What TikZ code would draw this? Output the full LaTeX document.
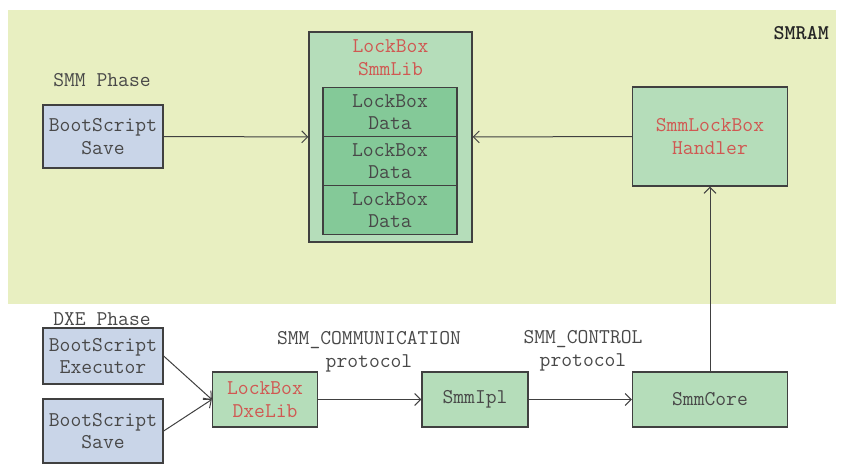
\documentclass[tikz,border=0pt]{standalone}
\usepackage{fontspec}
\usetikzlibrary{arrows.meta}
\definecolor{bgyellow}{RGB}{232,239,193}
\definecolor{boxblue}{RGB}{201,213,232}
\definecolor{boxgreen}{RGB}{181,221,186}
\definecolor{datagreen}{RGB}{132,201,152}
\definecolor{linegray}{RGB}{64,64,64}
\definecolor{txtgray}{RGB}{72,72,72}
\definecolor{txtred}{RGB}{208,88,82}
\tikzset{
  txtfont/.style={font=\ttfamily\fontsize{21}{22.5}\selectfont},
  box/.style={draw=linegray, line width=1.3pt, inner sep=0pt, align=center, text=txtgray, txtfont},
  bluebox/.style={box, fill=boxblue},
  greenbox/.style={box, fill=boxgreen},
  databox/.style={box, fill=datagreen},
  lbl/.style={inner sep=0pt, align=center, text=txtgray, txtfont},
  redtxt/.style={text=txtred},
  conn/.style={draw=linegray, line width=1pt, -{Straight Barb[length=6pt,width=12pt]}},
}
\begin{document}
\begin{tikzpicture}[x=1pt,y=-1pt]
\useasboundingbox (0,0) rectangle (847,472);
\fill[bgyellow] (8,10) rectangle (836,304);
\node[lbl, anchor=base east, font=\ttfamily\fontsize{21}{22.5}\selectfont\bfseries, text=black!85] (smram) at (829,39) {SMRAM};
\node[lbl, anchor=base] (smmphase) at (102,86) {SMM Phase};
\node[bluebox, minimum width=120pt, minimum height=63pt] (smmsave) at (103,136.5) {BootScript\\Save};
\node[greenbox, minimum width=163pt, minimum height=210pt] (smmlib) at (390.5,137) {};
\node[lbl, redtxt, anchor=base] (smmlibt) at (390.5,75) {LockBox\\SmmLib};
\node[databox, minimum width=134pt, minimum height=49pt] (data1) at (390,112) {LockBox\\Data};
\node[databox, minimum width=134pt, minimum height=49pt] (data2) at (390,161) {LockBox\\Data};
\node[databox, minimum width=134pt, minimum height=49pt] (data3) at (390,210) {LockBox\\Data};
\node[greenbox, redtxt, minimum width=155pt, minimum height=99pt] (handler) at (710,136.5) {SmmLockBox\\Handler};
\node[lbl, anchor=base] (dxephase) at (102,325) {DXE Phase};
\node[bluebox, minimum width=120pt, minimum height=56pt] (exec) at (103,356) {BootScript\\Executor};
\node[bluebox, minimum width=120pt, minimum height=64pt] (dxesave) at (103,431) {BootScript\\Save};
\node[greenbox, redtxt, minimum width=105pt, minimum height=55pt] (dxelib) at (265,399.5) {LockBox\\DxeLib};
\node[greenbox, minimum width=106pt, minimum height=55pt] (smmipl) at (475,399.5) {SmmIpl};
\node[greenbox, minimum width=155pt, minimum height=55pt] (smmcore) at (710,399.5) {SmmCore};
\node[lbl, anchor=base] (commlbl) at (369,367) {SMM\_COMMUNICATION\\protocol};
\node[lbl, anchor=base] (ctrllbl) at (583,366) {SMM\_CONTROL\\protocol};
\draw[conn] (smmsave) -- (smmlib);
\draw[conn] (handler) -- (smmlib);
\draw[conn] (smmcore) -- (handler);
\draw[conn] (exec.east) -- (dxelib.west);
\draw[conn] (dxesave.east) -- (dxelib.west);
\draw[conn] (dxelib) -- (smmipl);
\draw[conn] (smmipl) -- (smmcore);
\end{tikzpicture}
\end{document}
